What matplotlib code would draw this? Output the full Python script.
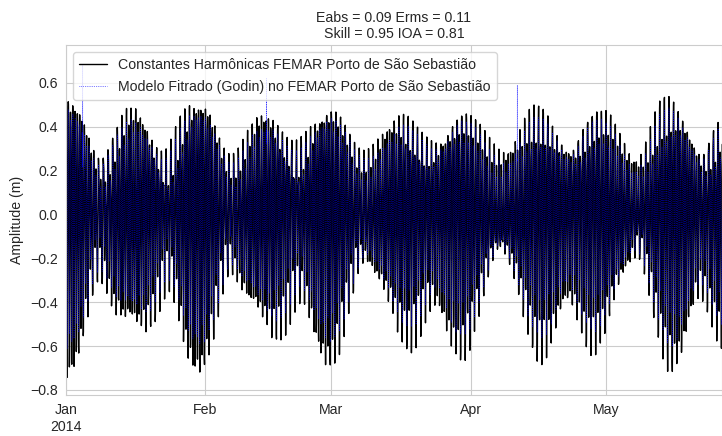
import numpy as np
import pandas as pd
import matplotlib
matplotlib.use("Agg")
import matplotlib.pyplot as plt
import seaborn as sns

# harmonic constants (amplitude in m, phase in degrees), tuned by eye to the picture
constituents = ["Z0", "M2", "S2", "N2", "K2", "O1", "K1", "Q1", "M4", "MS4", "MN4"]
periods_h = [np.inf, 12.4206, 12.0, 12.6583, 11.9672, 25.8193, 23.9345, 26.8684,
             6.2103, 6.1033, 6.2692]
amp_femar = [0.01, 0.360, 0.135, 0.070, 0.0375, 0.047, 0.066, 0.010, 0.034, 0.034, 0.060]
pha_femar = [0, 0, 0, 0, 0, 125, -20, 125, 180, 180, 180]
amp_model = [0.01, 0.312, 0.118, 0.060, 0.032, 0.043, 0.060, 0.009, 0.020, 0.020, 0.035]
pha_model = [0, 8, 10, 6, 10, 130, -15, 130, 195, 195, 195]

# isolated peaks of the model series
spike_times = ["2014-01-04 17:00", "2014-02-14 14:00", "2014-04-11 08:00"]
spike_values = [0.68, 0.62, 0.59]

start = "2014-01-01"
last = "2014-05-31 23:00"
end = "2014-05-26 20:00"
ref_hours = 12.0   # spring tide reference

month_ticks = ["2014-01-01", "2014-02-01", "2014-03-01", "2014-04-01", "2014-05-01"]
month_labels = ["Jan\n2014", "Feb", "Mar", "Apr", "May"]
y_ticks = [-0.8, -0.6, -0.4, -0.2, 0.0, 0.2, 0.4, 0.6]

title = "Eabs = 0.09 Erms = 0.11\nSkill = 0.95 IOA = 0.81"
label_femar = "Constantes Harmônicas FEMAR Porto de São Sebastião"
label_model = "Modelo Fitrado (Godin) no FEMAR Porto de São Sebastião"


def synth(hours, amps, phases):
    h = np.zeros_like(hours)
    for T, a, p in zip(periods_h, amps, phases):
        h += a * np.cos(2 * np.pi * (hours - ref_hours) / T - np.radians(p))
    return h


times = pd.date_range(start, last, freq="h")
hours = (times - times[0]).total_seconds().values / 3600.0
femar = pd.Series(synth(hours, amp_femar, pha_femar), index=times)
model = pd.Series(synth(hours, amp_model, pha_model), index=times)
for t, v in zip(spike_times, spike_values):
    model[pd.Timestamp(t)] = v

sns.set_style("whitegrid")
plt.rcParams["font.family"] = ["Liberation Sans", "DejaVu Sans"]
fs = 10.2

fig = plt.figure(figsize=(7.22, 4.36), dpi=100)
ax = fig.add_axes([0.0914, 0.094, 0.9086, 0.803])

ax.plot(femar.index, femar.values, color="black", lw=1.0, label=label_femar)
ax.plot(model.index, model.values, color="blue", lw=0.5, ls=":", label=label_model)

ax.set_xlim(pd.Timestamp(start), pd.Timestamp(end))
ax.set_ylim(-0.823, 0.773)
ax.set_yticks(y_ticks)
ax.set_yticklabels([f"{v:.1f}".replace("-", "\u2212") for v in y_ticks], fontsize=fs)
ax.set_xticks([pd.Timestamp(d) for d in month_ticks])
ax.set_xticklabels(month_labels, fontsize=fs)
ax.set_ylabel("Amplitude (m)", fontsize=fs)
ax.set_title(title, fontsize=fs, pad=5)
ax.tick_params(axis="both", length=0, pad=6)

ax.legend(loc="upper left", fontsize=fs, frameon=True, borderaxespad=0.5,
          handlelength=2.0, labelspacing=0.6)

fig.savefig("out.png", dpi=100)
